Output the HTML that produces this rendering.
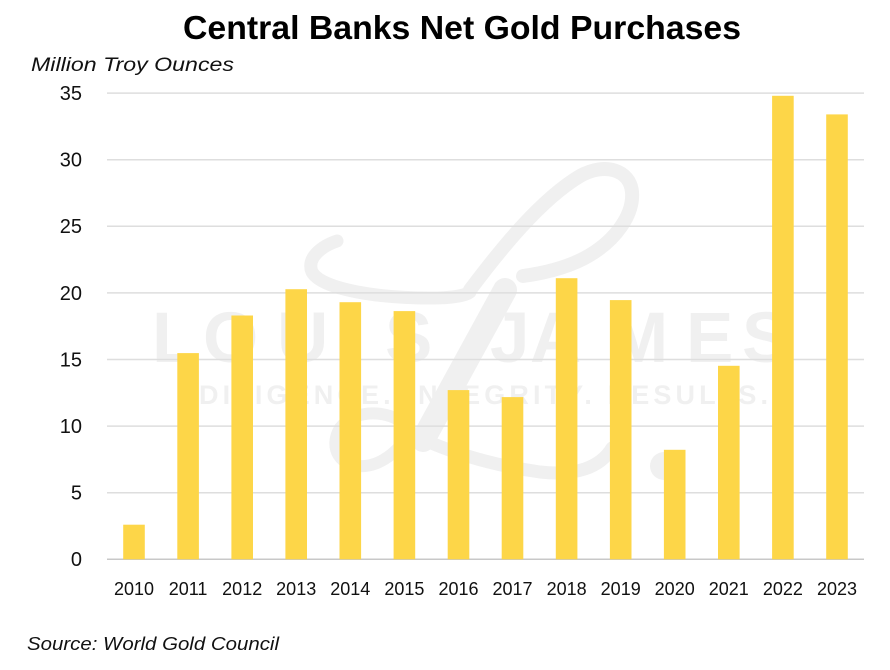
<!DOCTYPE html>
<html>
<head>
<meta charset="utf-8">
<style>
  html,body{margin:0;padding:0;background:#fff;}
  svg{display:block;}
</style>
</head>
<body>
<svg width="890" height="670" viewBox="0 0 890 670" xmlns="http://www.w3.org/2000/svg">
  <rect x="0" y="0" width="890" height="670" fill="#ffffff"/>

  <!-- Watermark -->
  <g fill="none" stroke="#f0f0f0" stroke-linecap="round">
    <!-- upper left swoosh -->
    <path d="M337 241 C322 246 306 258 312 272 C322 290 380 298 430 298 C450 298 465 296 470 292" stroke-width="13"/>
    <!-- top loop outer -->
    <path d="M470 290 C500 250 540 200 580 176 C605 162 630 170 632 192 C634 215 615 240 590 255 C570 267 545 273 523 276" stroke-width="14"/>
    <!-- main diagonal -->
    <path d="M505 290 L423 440" stroke-width="24"/>
    <!-- bottom loop -->
    <path d="M405 425 C390 410 355 408 340 428 C328 448 340 468 365 466 C385 464 400 448 412 432" stroke-width="12"/>
    <!-- bottom swoosh -->
    <path d="M405 430 C440 450 490 465 540 472 C575 476 600 468 612 448" stroke-width="13"/>
  </g>
  <circle cx="664" cy="466" r="14" fill="#f0f0f0"/>
  <g font-family="Liberation Sans, sans-serif" font-weight="bold" font-size="71" fill="#f0f0f0">
    <text x="152" y="362">L</text>
    <text x="203" y="362">O</text>
    <text x="277" y="362">U</text>
    <text x="345" y="362">I</text>
    <text x="385" y="362">S</text>
    <text x="490" y="362">J</text>
    <text x="530" y="362">A</text>
    <text x="609" y="362">M</text>
    <text x="686" y="362">E</text>
    <text x="742" y="362">S</text>
  </g>
  <text x="199" y="404" font-family="Liberation Sans, sans-serif" font-weight="bold" font-size="27" fill="#f0f0f0" textLength="569" lengthAdjust="spacing">DILIGENCE. INTEGRITY. RESULTS.</text>

  <!-- Gridlines -->
  <g stroke="#dedede" stroke-width="1.5">
    <line x1="107" y1="93.1" x2="864" y2="93.1"/>
    <line x1="107" y1="159.7" x2="864" y2="159.7"/>
    <line x1="107" y1="226.3" x2="864" y2="226.3"/>
    <line x1="107" y1="292.9" x2="864" y2="292.9"/>
    <line x1="107" y1="359.5" x2="864" y2="359.5"/>
    <line x1="107" y1="426.1" x2="864" y2="426.1"/>
    <line x1="107" y1="492.7" x2="864" y2="492.7"/>
  </g>
  <line x1="107" y1="559.3" x2="864" y2="559.3" stroke="#c8c8c8" stroke-width="1.5"/>

  <!-- Bars -->
  <g fill="#fdd648">
    <rect x="123.2" y="524.7" width="21.6" height="34.6"/>
    <rect x="177.3" y="353.1" width="21.6" height="206.2"/>
    <rect x="231.4" y="315.5" width="21.6" height="243.8"/>
    <rect x="285.4" y="289.2" width="21.6" height="270.1"/>
    <rect x="339.5" y="302.2" width="21.6" height="257.1"/>
    <rect x="393.6" y="311.1" width="21.6" height="248.2"/>
    <rect x="447.7" y="390.1" width="21.6" height="169.2"/>
    <rect x="501.7" y="397.1" width="21.6" height="162.2"/>
    <rect x="555.8" y="278.2" width="21.6" height="281.1"/>
    <rect x="609.9" y="300.1" width="21.6" height="259.2"/>
    <rect x="663.9" y="449.8" width="21.6" height="109.5"/>
    <rect x="718.0" y="365.8" width="21.6" height="193.5"/>
    <rect x="772.1" y="95.8" width="21.6" height="463.5"/>
    <rect x="826.2" y="114.4" width="21.6" height="444.9"/>
  </g>

  <!-- Title -->
  <text x="183" y="39" font-family="Liberation Sans, sans-serif" font-weight="bold" font-size="33" fill="#000" textLength="558" lengthAdjust="spacingAndGlyphs">Central Banks Net Gold Purchases</text>

  <!-- Axis title -->
  <text x="31" y="71" font-family="Liberation Sans, sans-serif" font-style="italic" font-size="19.5" fill="#111" textLength="203" lengthAdjust="spacingAndGlyphs">Million Troy Ounces</text>

  <!-- Y tick labels -->
  <g font-family="Liberation Sans, sans-serif" font-size="20" fill="#111" text-anchor="end">
    <text x="82" y="100">35</text>
    <text x="82" y="166.6">30</text>
    <text x="82" y="233.2">25</text>
    <text x="82" y="299.8">20</text>
    <text x="82" y="366.4">15</text>
    <text x="82" y="433">10</text>
    <text x="82" y="499.6">5</text>
    <text x="82" y="566.2">0</text>
  </g>

  <!-- X tick labels -->
  <g font-family="Liberation Sans, sans-serif" font-size="18" fill="#111" text-anchor="middle">
    <text x="134.0" y="595">2010</text>
    <text x="188.1" y="595">2011</text>
    <text x="242.2" y="595">2012</text>
    <text x="296.2" y="595">2013</text>
    <text x="350.3" y="595">2014</text>
    <text x="404.4" y="595">2015</text>
    <text x="458.5" y="595">2016</text>
    <text x="512.5" y="595">2017</text>
    <text x="566.6" y="595">2018</text>
    <text x="620.7" y="595">2019</text>
    <text x="674.7" y="595">2020</text>
    <text x="728.8" y="595">2021</text>
    <text x="782.9" y="595">2022</text>
    <text x="837.0" y="595">2023</text>
  </g>

  <!-- Source -->
  <text x="27" y="650" font-family="Liberation Sans, sans-serif" font-style="italic" font-size="18.5" fill="#111" textLength="252" lengthAdjust="spacingAndGlyphs">Source: World Gold Council</text>
</svg>
</body>
</html>
